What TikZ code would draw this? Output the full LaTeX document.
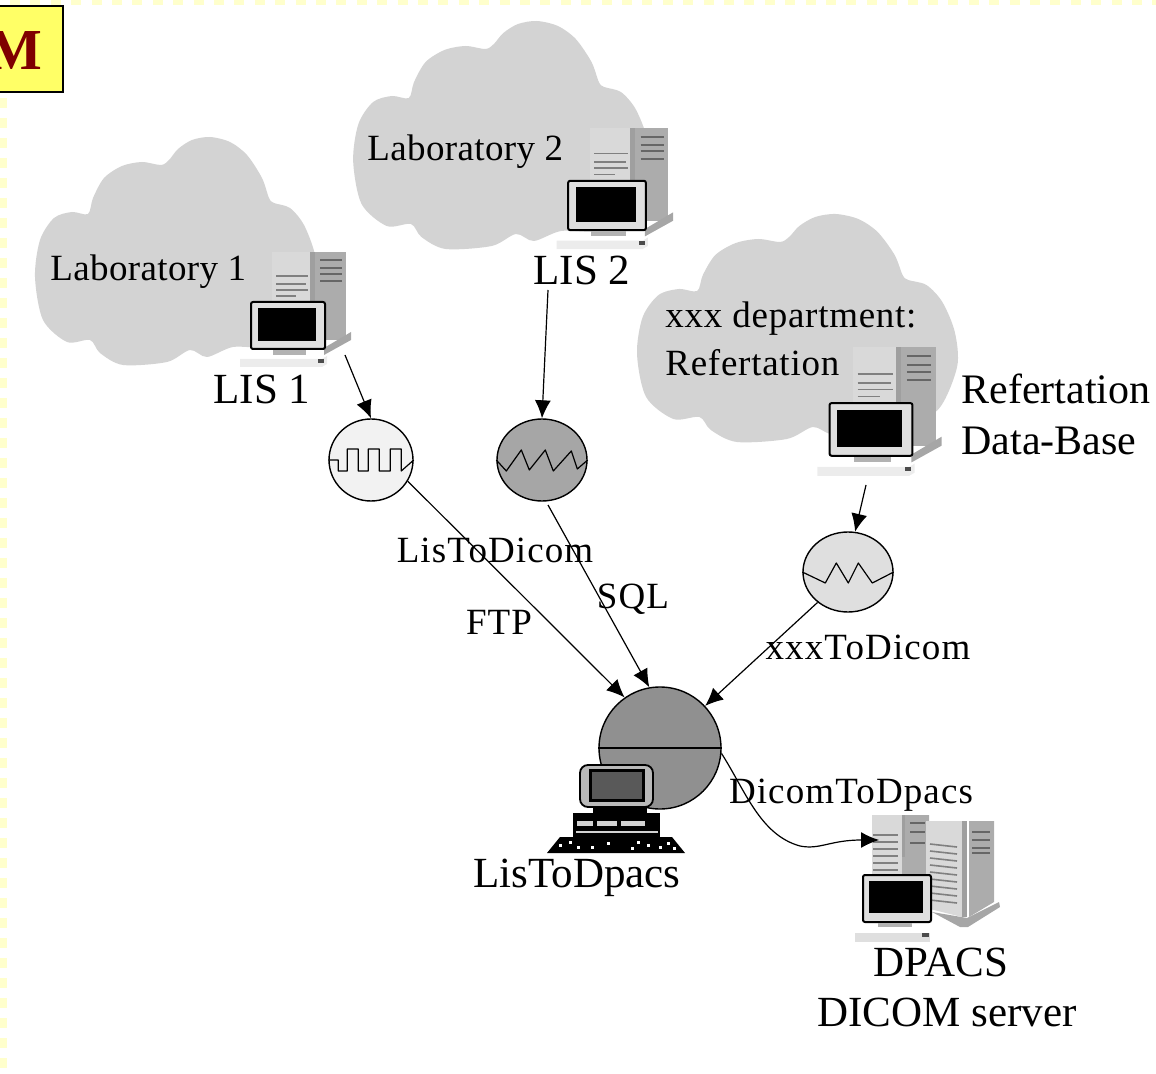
\documentclass[tikz,border=0pt]{standalone}
\usepackage{fontspec}
\setmainfont{Liberation Serif}
\usetikzlibrary{positioning,arrows.meta,shapes.geometric}

\definecolor{cloudgray}{HTML}{D3D3D3}
\definecolor{trimyellow}{HTML}{FFFFCC}
\definecolor{boxyellow}{HTML}{FFFF66}
\definecolor{boxred}{HTML}{7F0000}
\definecolor{hubgray}{HTML}{909090}

\tikzset{
    labelbig/.style={inner sep=0pt, align=center, font=\fontsize{21.5}{25.5}\selectfont},
    labelsmall/.style={inner sep=0pt, align=left, font=\fontsize{18.5}{24}\selectfont\addfontfeature{LetterSpace=#1}},
    labelsmall/.default=2,
    signal/.style={ellipse, draw=black, line width=0.7pt, inner sep=0pt},
    wave/.style={line width=0.6pt, line join=round},
    link/.style={->, line width=0.6pt},
    labcloud/.pic={
        \fill[cloudgray] plot[smooth cycle, tension=0.5] coordinates {
            (-137,27) (-132,-10) (-118,-32) (-100,-38) (-84,-36) (-79,-52) (-68,-72) (-50,-84) (-30,-88) (-11,-85) (-3,-90) (6,-101)
            (20,-110) (38,-113) (58,-108) (75,-95) (90,-72) (97,-52) (102,-47) (118,-42) (132,-25) (143,5) (145,40) (128,83) (95,97)
            (61,97) (35,107) (18,100) (-5,112) (-49,115) (-72,103) (-82,90) (-105,92) (-129,70)};
    },
    workstation/.pic={
        \fill[gray!30]   (-16,-74) rectangle (22,-21);
        \fill[gray!75]   (22,-74) rectangle (27,-21);
        \fill[gray!65]   (27,-74) rectangle (58,14);
        \fill[gray!70]   (36,22) -- (63,6) -- (63,14) -- (36,29) -- cycle;
        \foreach \liney in {-66,-58,-52,-45}
            \draw[black!60, line width=1pt] (32,\liney) -- (54,\liney);
        \foreach \liney/\lineend in {-50/20,-42/18,-36/20,-30/8}
            \draw[black!50, line width=0.8pt] (-12,\liney) -- (\lineend,\liney);
        \draw[black, fill=gray!25, line width=1pt, rounded corners=1pt] (-37,-24) rectangle (37,23);
        \fill[black]     (-30,-18) rectangle (28,15);
        \fill[gray!60]   (-15,24) rectangle (18,29);
        \fill[gray!15]   (-48,33) -- (34,33) -- (39,30) -- (39,38) -- (34,41) -- (-48,41) -- cycle;
        \fill[black!70]  (30,33) rectangle (36,37);
        \coordinate (-out) at (57,29);
    },
    pcblack/.pic={
        \fill[black]     (-24,7) rectangle (30,13);
        \fill[black]     (-44,13) rectangle (43,37);
        \draw[black, fill=gray!55, line width=0.9pt, rounded corners=4pt] (-37,-35) rectangle (36,7);
        \draw[black, fill=black!65, line width=1.5pt] (-27,-30) rectangle (26,0);
        \foreach \keyx/\keylen in {-40/16,-20/20,4/24}
            \fill[gray!35] (\keyx,21) rectangle ++(\keylen,5);
        \fill[gray!35]   (-41,31) rectangle (41,33);
        \fill[black]     (-57,37) -- (55,37) -- (68,53) -- (-70,53) -- cycle;
        \foreach \keyx/\keyy in {-58/44,-48/41,-40/46,-26/46,-10/42,14/47,20/41,30/44,42/46,50/42,56/47}
            \fill[white] (\keyx,\keyy) rectangle ++(3,3);
    },
    serverpair/.pic={
        \fill[gray!30]   (-25,-60) rectangle (5,5);
        \fill[gray!75]   (5,-60) rectangle (8,-18);
        \fill[gray!65]   (8,-60) -- (32,-60) -- (32,5) -- (5,5) -- (5,-18) -- (8,-18) -- cycle;
        \foreach \liney in {-52,-43,-32}
            \draw[black!60, line width=1pt] (13,\liney) -- (28,\liney);
        \foreach \liney in {-40,-33,-26,-19,-12,-5}
            \draw[black!50, line width=0.8pt] (-24,\liney) -- (1,\liney);
        \fill[gray!30]   (29,-54) -- (65,-54) -- (65,42) -- (29,33) -- cycle;
        \fill[gray!75]   (65,-54) rectangle (70,42);
        \fill[white]     (70,-36) rectangle (72,42);
        \fill[gray!65]   (72,-54) -- (97,-54) -- (97,27) -- (72,42) -- cycle;
        \fill[gray!70]   (35,37) -- (63,52) -- (71,52) -- (103,32) -- (102,27) -- (70,43) -- cycle;
        \foreach \liney in {-43,-35,-27,-22}
            \draw[black!60, line width=1pt] (75,\liney) -- (93,\liney);
        \foreach \liney in {-31,-24,-17,-10,-3,4,11,18,25}
            \draw[black!50, line width=0.8pt] (33,\liney) -- (60,\liney+3);
        \draw[black, fill=gray!25, line width=1pt, rounded corners=1pt] (-34,0) rectangle (34,47);
        \fill[black]     (-28,6) rectangle (26,38);
        \fill[gray!60]   (-19,48) rectangle (15,52);
        \fill[gray!25]   (-42,58) rectangle (33,67);
        \fill[black!70]  (25,58) rectangle (32,62);
        \coordinate (-in) at (-18,-35);
    },
}

\begin{document}
\begin{tikzpicture}[x=0.5pt,y=-0.5pt,on grid,>={Latex[length=9pt,width=8pt]}]
    \useasboundingbox (0,0) rectangle (1156,1074);

    \draw[trimyellow, line width=2.5pt, dash pattern=on 5pt off 5.2pt] (10,2.5) -- (1156,2.5);
    \draw[trimyellow, line width=3.5pt, dash pattern=on 5pt off 5pt] (3.5,98) -- (3.5,1074);

    \node[draw=black, fill=boxyellow, line width=0.8pt, minimum width=43pt, minimum height=43pt] (titlebox) at (20,49) {};
    \node[font=\fontsize{29}{29}\bfseries\selectfont, text=boxred, inner sep=0pt, anchor=east] (titletext) at (43,51) {M};

    \pic at (172,250) {labcloud};
    \pic[xscale=1.05] at (497,134) {labcloud};
    \pic[xscale=1.135] at (792.5,327) {labcloud};

    \pic (lis1) at (288,326) {workstation};
    \pic (lis2) [scale=1.05] at (607,206) {workstation};
    \pic (refdb) [scale=1.12] at (871,430) {workstation};

    \node[signal, fill=gray!10, minimum width=42pt, minimum height=41pt] (sig1) at (371,460) {};
    \node[signal, fill=gray!70, minimum width=45pt, minimum height=41pt] (sig2) [right = 85.5pt of sig1] {};
    \node[signal, fill=gray!25, minimum width=45pt, minimum height=40pt] (sig3) [below right = 56pt and 238.5pt of sig1] {};
    \node[circle, draw=black, fill=hubgray, line width=0.7pt, inner sep=0pt, minimum size=61pt] (hub) [below right = 144pt and 144.5pt of sig1] {};

    \pic (dpacs) at (897,875) {serverpair};
    \pic (listodpacs) at (617,800) {pcblack};

    \coordinate (lis2out) at (548,290);
    \coordinate (sig2out) at (548,505);
    \coordinate (refout) at (866,485);

    \draw[wave] (sig1.west) -- ++(10,0) -- ++(0,11) -- ++(9,0) -- ++(0,-22) -- ++(11,0) -- ++(0,22) -- ++(10,0) -- ++(0,-22) -- ++(11,0) -- ++(0,22) -- ++(11,0) -- ++(0,-22) -- ++(11,0) -- ++(0,22) -- (sig1.east);
    \draw[wave] (sig2.west) -- ++(10,11) -- ++(15,-21) -- ++(8,20) -- ++(16,-20) -- ++(8,21) -- ++(18,-20) -- ++(6,18) -- (sig2.east);
    \draw[wave] (sig3.west) -- ++(23,11) -- ++(11,-20) -- ++(12,20) -- ++(10,-20) -- ++(14,20) -- (sig3.east);
    \draw[line width=0.9pt] (hub.west) -- (hub.east);

    \draw[link] (lis1-out) -- (sig1.90);
    \draw[link] (lis2out) -- (sig2.90);
    \draw[link] (refout) -- (sig3.80);
    \draw[link] (sig1.-30) -- (hub.125);
    \draw[link] (sig2out) -- (hub.100);
    \draw[link] (sig3.-135) -- (hub.43);
    \draw[link] (hub.-5) .. controls (745,790) and (760,835) .. (800,846) .. controls (820,850) and (830,840) .. (dpacs-in);

    \node[labelsmall=1, anchor=west] (lab1) at (50,272) {Laboratory 1};
    \node[labelsmall=1, anchor=west] (lab2) at (367,152) {Laboratory 2};
    \node[labelsmall, anchor=west] (dept) at (665,339) {xxx department:\\Refertation};
    \node[labelbig] (lis1name) at (262,389) {LIS 1};
    \node[labelbig] (lis2name) at (582,270) {LIS 2};
    \node[labelbig, align=left, anchor=west, font=\fontsize{21}{25.5}\selectfont] (refname) at (961,414) {Refertation\\Data-Base};
    \node[labelsmall=3] (listodicom) at (495,550) {LisToDicom};
    \node[labelsmall=3] (ftp) at (499,622) {FTP};
    \node[labelsmall=3] (sql) at (633,599) {SQL};
    \node[labelsmall=3] (xxxtodicom) at (868,647) {xxxToDicom};
    \node[labelsmall=3] (dicomtodpacs) at (851,795) {DicomToDpacs};
    \node[labelbig] (listodpacsname) at (577,878) {LisToDpacs};
    \node[labelbig] (dpacsname) at (941,962) {DPACS};
    \node[labelbig] (dicomname) at (947,1012) {DICOM server};
\end{tikzpicture}
\end{document}
